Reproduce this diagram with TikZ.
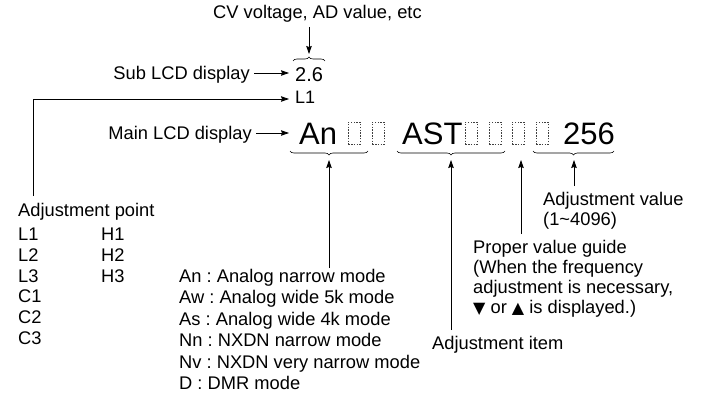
\documentclass[tikz,border=0pt]{standalone}
\usepackage{fontspec}
\setmainfont{Liberation Sans}
\newfontfamily\symfont{DejaVu Sans}
\usetikzlibrary{arrows.meta,decorations.pathreplacing}
\frenchspacing
\tikzset{
  x=1pt,y=-1pt,
  lbl/.style={inner sep=0pt,font=\fontsize{18.3}{20}\selectfont},
  big/.style={inner sep=0pt,font=\fontsize{31}{34}\selectfont},
  mid/.style={inner sep=0pt,font=\fontsize{20}{22}\selectfont},
  l1font/.style={inner sep=0pt,font=\fontsize{18}{20}\selectfont},
  arr/.style={line width=0.8pt,-{Stealth[length=8pt,width=5.5pt,inset=1pt]}},
  segbox/.style={draw=black!75,dash pattern=on 1.5pt off 1.3pt,line width=0.45pt,minimum width=12pt,minimum height=22pt,inner sep=0pt,anchor=north west},
  brc/.style={decorate,decoration={brace,amplitude=4pt},line width=0.6pt},
}
\begin{document}
\begin{tikzpicture}
\useasboundingbox[fill=white] (0,0) rectangle (703,398);
% top
\node[lbl,anchor=base west] (cv) at (213,19) {CV voltage, AD value, etc};
\coordinate (cvs) at (309,27);
\coordinate (cvt) at (309,54);
\draw[arr] (cvs) -- (cvt);
% sub display
\node[mid,anchor=base west] (sub) at (295,82) {2.6};
\coordinate (bs1) at (293,61);
\coordinate (be1) at (325,61);
\draw[brc] (bs1) -- (be1);
\node[lbl,anchor=base east] (sublbl) at (250,80) {Sub LCD display};
\coordinate (subt) at (289,73);
\draw[arr] (sublbl.east |- subt) ++(4,0) coordinate (subs) -- (subt);
% L1
\node[l1font,anchor=base west] (lone) at (295,104) {L1};
\coordinate (lt) at (289,99);
\coordinate (lc) at (33,99);
\coordinate (lb) at (33,196);
\draw[arr] (lb) -- (lc) -- (lt);
% main display
\node[lbl,anchor=base east] (mainlbl) at (252,140) {Main LCD display};
\coordinate (maint) at (289,133);
\draw[arr] (mainlbl.east |- maint) ++(4,0) -- (maint);
\node[big,anchor=base west] (an) at (299,145) {An};
\node[segbox] (b1) at (348,122) {};
\node[segbox] (b2) at (372,122) {};
\node[big,anchor=base west] (ast) at (402,145) {AST};
\node[segbox] (b3) at (465,122) {};
\node[segbox] (b4) at (489,122) {};
\node[segbox] (b5) at (512,122) {};
\node[segbox] (b6) at (536,122) {};
\node[big,anchor=base west] (val) at (563,145) {256};
% braces below
\coordinate (br1s) at (368,151);
\coordinate (br1e) at (290,151);
\draw[brc] (br1s) -- (br1e);
\coordinate (br2s) at (505,151);
\coordinate (br2e) at (397,151);
\draw[brc] (br2s) -- (br2e);
\coordinate (br3s) at (614,151);
\coordinate (br3e) at (533,151);
\draw[brc] (br3s) -- (br3e);
% adjustment point list
\node[lbl,anchor=base west] (ap) at (18,216) {Adjustment point};
\node[lbl,anchor=base west] (pl1) at (18,240) {L1};
\node[lbl,anchor=base west] (pl2) at (18,261) {L2};
\node[lbl,anchor=base west] (pl3) at (18,282) {L3};
\node[lbl,anchor=base west] (pc1) at (18,302.5) {C1};
\node[lbl,anchor=base west] (pc2) at (18,323.5) {C2};
\node[lbl,anchor=base west] (pc3) at (18,344.5) {C3};
\node[lbl,anchor=base west] (ph1) at (101,240) {H1};
\node[lbl,anchor=base west] (ph2) at (101,261) {H2};
\node[lbl,anchor=base west] (ph3) at (101,282) {H3};
% modes
\node[lbl,anchor=base west] (m1) at (179,282) {An : Analog narrow mode};
\node[lbl,anchor=base west] (m2) at (179,303.5) {Aw : Analog wide 5k mode};
\node[lbl,anchor=base west] (m3) at (179,325) {As : Analog wide 4k mode};
\node[lbl,anchor=base west] (m4) at (179,346.5) {Nn : NXDN narrow mode};
\node[lbl,anchor=base west] (m5) at (179,368) {Nv : NXDN very narrow mode};
\node[lbl,anchor=base west] (m6) at (179,389.5) {D : DMR mode};
\coordinate (a1s) at (329,268);
\coordinate (a1t) at (329,160);
\draw[arr] (a1s) -- (a1t);
% adjustment item
\node[lbl,anchor=base west] (item) at (432,349) {Adjustment item};
\coordinate (a2s) at (451,330);
\coordinate (a2t) at (451,160);
\draw[arr] (a2s) -- (a2t);
% proper value guide
\node[lbl,anchor=base west] (g1) at (473,253) {Proper value guide};
\node[lbl,anchor=base west] (g2) at (473,273) {(When the frequency};
\node[lbl,anchor=base west] (g3) at (473,293) {adjustment is necessary,};
\node[lbl,anchor=base west] (g4) at (473,313) {{\symfont\fontsize{16}{16}\selectfont ▼} or {\symfont\fontsize{16}{16}\selectfont ▲} is displayed.)};
\coordinate (a3s) at (521,234);
\coordinate (a3t) at (521,160);
\draw[arr] (a3s) -- (a3t);
% adjustment value
\node[lbl,anchor=base west] (v1) at (543,205) {Adjustment value};
\node[lbl,anchor=base west] (v2) at (543,225) {(1\textasciitilde 4096)};
\coordinate (a4s) at (574,186);
\coordinate (a4t) at (574,160);
\draw[arr] (a4s) -- (a4t);
\end{tikzpicture}
\end{document}
